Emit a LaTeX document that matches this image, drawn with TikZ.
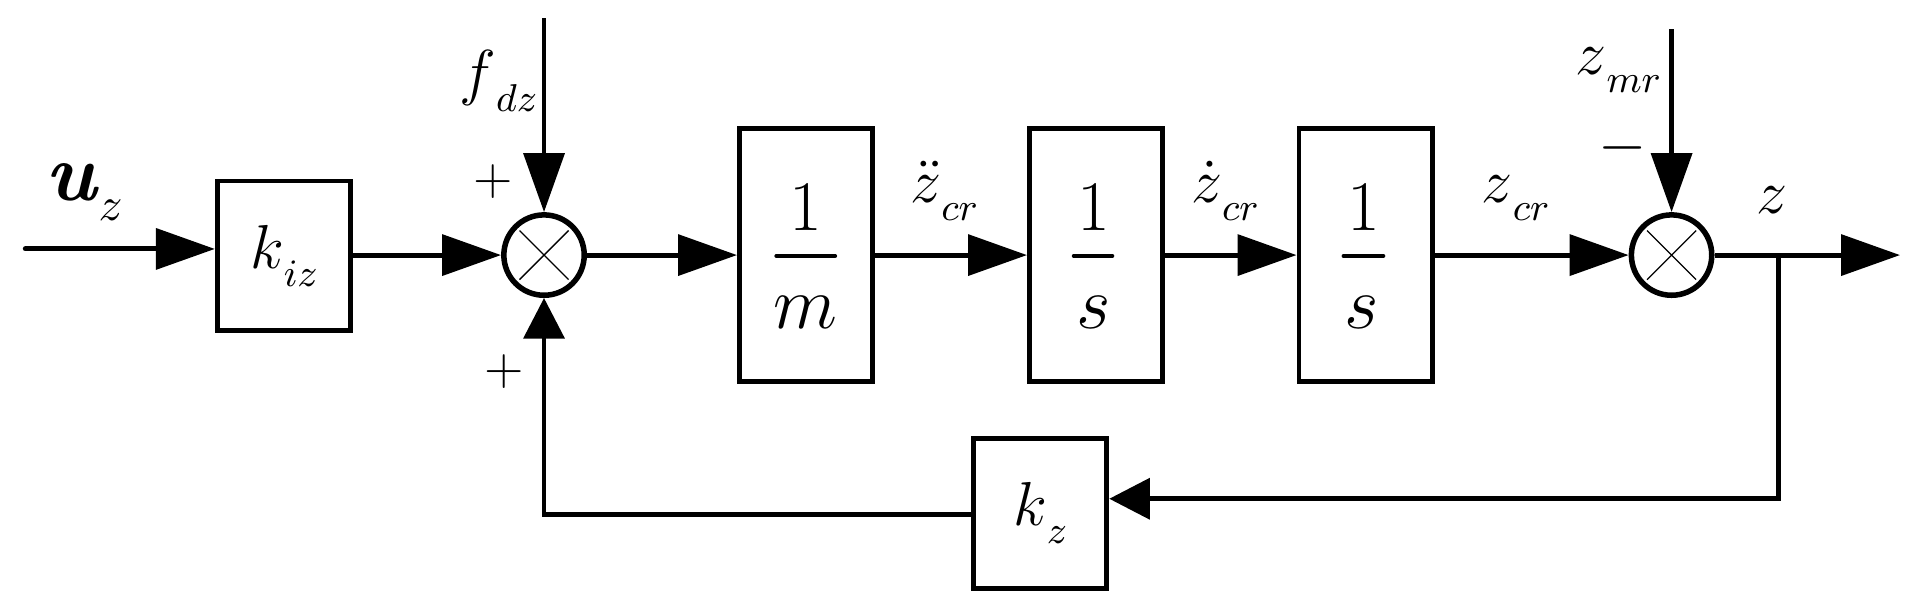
\documentclass[tikz,border=0pt]{standalone}
\usetikzlibrary{arrows.meta}
\newcommand{\subfont}{\fontsize{9.5}{11}\selectfont}
\newcommand{\lblsub}[2]{$#1$\raisebox{-4.1pt}{\subfont$#2$}}
\begin{document}
\begin{tikzpicture}[x=0.01cm,y=-0.01cm,
  blk/.style={draw,line width=0.04cm,minimum width=1.085cm,minimum height=1.22cm,inner sep=0,outer sep=0.02cm,font=\fontsize{15.5}{18}\selectfont},
  tall/.style={blk,minimum height=2.066cm},
  sumc/.style={draw,circle,line width=0.045cm,minimum size=0.655cm,inner sep=0,outer sep=0.0225cm},
  wire/.style={line width=0.04cm},
  arr/.style={wire,-{Triangle[length=0.48cm,width=0.33cm]}},
  sarr/.style={wire,-{Triangle[length=0.33cm,width=0.33cm]}},
  lbl/.style={inner sep=0,font=\fontsize{15.5}{18}\selectfont},
  num/.style={inner sep=0,font=\fontsize{16.5}{18}\selectfont},
  sgn/.style={inner sep=0,font=\fontsize{13}{14}\selectfont},
  fbar/.style={line width=0.032cm,line cap=round},
  xline/.style={line width=0.3pt}
]
\useasboundingbox (0,0) rectangle (1568,498);
% blocks
\node[blk] (kiz) at (231.5,208.6) {\lblsub{k}{iz}};
\node[tall] (m1) at (657.25,208) {};
\node[tall] (s1) at (893.7,208) {};
\node[tall] (s2) at (1113.5,208) {};
\node[blk] (kz) at (848.2,418.5) {\lblsub{k}{z}};
\node[sumc] (sum1) at (443.6,208) {};
\node[sumc] (sum2) at (1363,208) {};
\draw[xline] (sum1.center) +(-20,-20) -- +(20,20) (sum1.center) +(20,-20) -- +(-20,20);
\draw[xline] (sum2.center) +(-20,-20) -- +(20,20) (sum2.center) +(20,-20) -- +(-20,20);
% fractions
\node[num] (m1n) at (657,168.5) {1};
\draw[fbar] (633,208.7) -- (681,208.7);
\node[num] (m1d) at (656.5,254.5) {$m$};
\node[num] (s1n) at (891.6,168.5) {1};
\draw[fbar] (875.5,208.7) -- (907,208.7);
\node[num] (s1d) at (891.6,255) {$s$};
\node[num] (s2n) at (1112,168.5) {1};
\draw[fbar] (1095.5,208.7) -- (1128,208.7);
\node[num] (s2d) at (1110.6,255) {$s$};
% coordinates
\coordinate (in) at (20.6,203);
\coordinate (fdtop) at (443.6,15);
\coordinate (zmtop) at (1363,23.8);
\coordinate (out) at (1549.3,208);
\coordinate (br) at (1450,208);
\coordinate (brd) at (1450,406.7);
\coordinate (fbl) at (443.6,419.4);
% connectors
\draw[arr,line cap=round] (in) -- (in -| kiz.west);
\draw[arr] (kiz.east |- sum1.west) -- (sum1.west);
\draw[arr] (fdtop) -- (sum1.north);
\draw[arr] (sum1.east) -- (m1.west);
\draw[arr] (m1.east) -- (s1.west);
\draw[arr] (s1.east) -- (s2.west);
\draw[arr] (s2.east) -- (sum2.west);
\draw[arr] (zmtop) -- (sum2.north);
\draw[arr] (sum2.east) -- (out);
\draw[sarr] (br) -- (brd) -- (brd -| kz.east);
\draw[sarr] (kz.west |- fbl) -- (fbl) -- (sum1.south);
% labels
\node[anchor=base west,inner sep=0] (uz) at (36,163.6) {\fontsize{19}{22}\selectfont\textbf{\textit{u}}\raisebox{-4.5pt}{\fontsize{10.5}{12}\selectfont$z$}};
\node[lbl,anchor=base west] (fdz) at (374,76.6) {$f$\raisebox{-4pt}{\fontsize{9}{11}\selectfont$dz$}};
\node[lbl,anchor=base west] (zddl) at (741.6,165) {\lblsub{\ddot{z}}{cr}};
\node[lbl,anchor=base west] (zdl) at (970.5,165) {\lblsub{\dot{z}}{cr}};
\node[lbl,anchor=base west] (zcr) at (1207.6,165) {\lblsub{z}{cr}};
\node[lbl,anchor=base west] (zmr) at (1284,60.4) {$z$\raisebox{-4.3pt}{\fontsize{9}{11}\selectfont$mr$}};
\node[lbl,anchor=base west] (zo) at (1431.6,174) {$z$};
\node[sgn] (p1) at (402,148) {$+$};
\node[sgn] (p2) at (411.5,303) {$+$};
\node[sgn,font=\fontsize{14}{15}\selectfont] (mn) at (1323,120.7) {$-$};
\end{tikzpicture}
\end{document}
